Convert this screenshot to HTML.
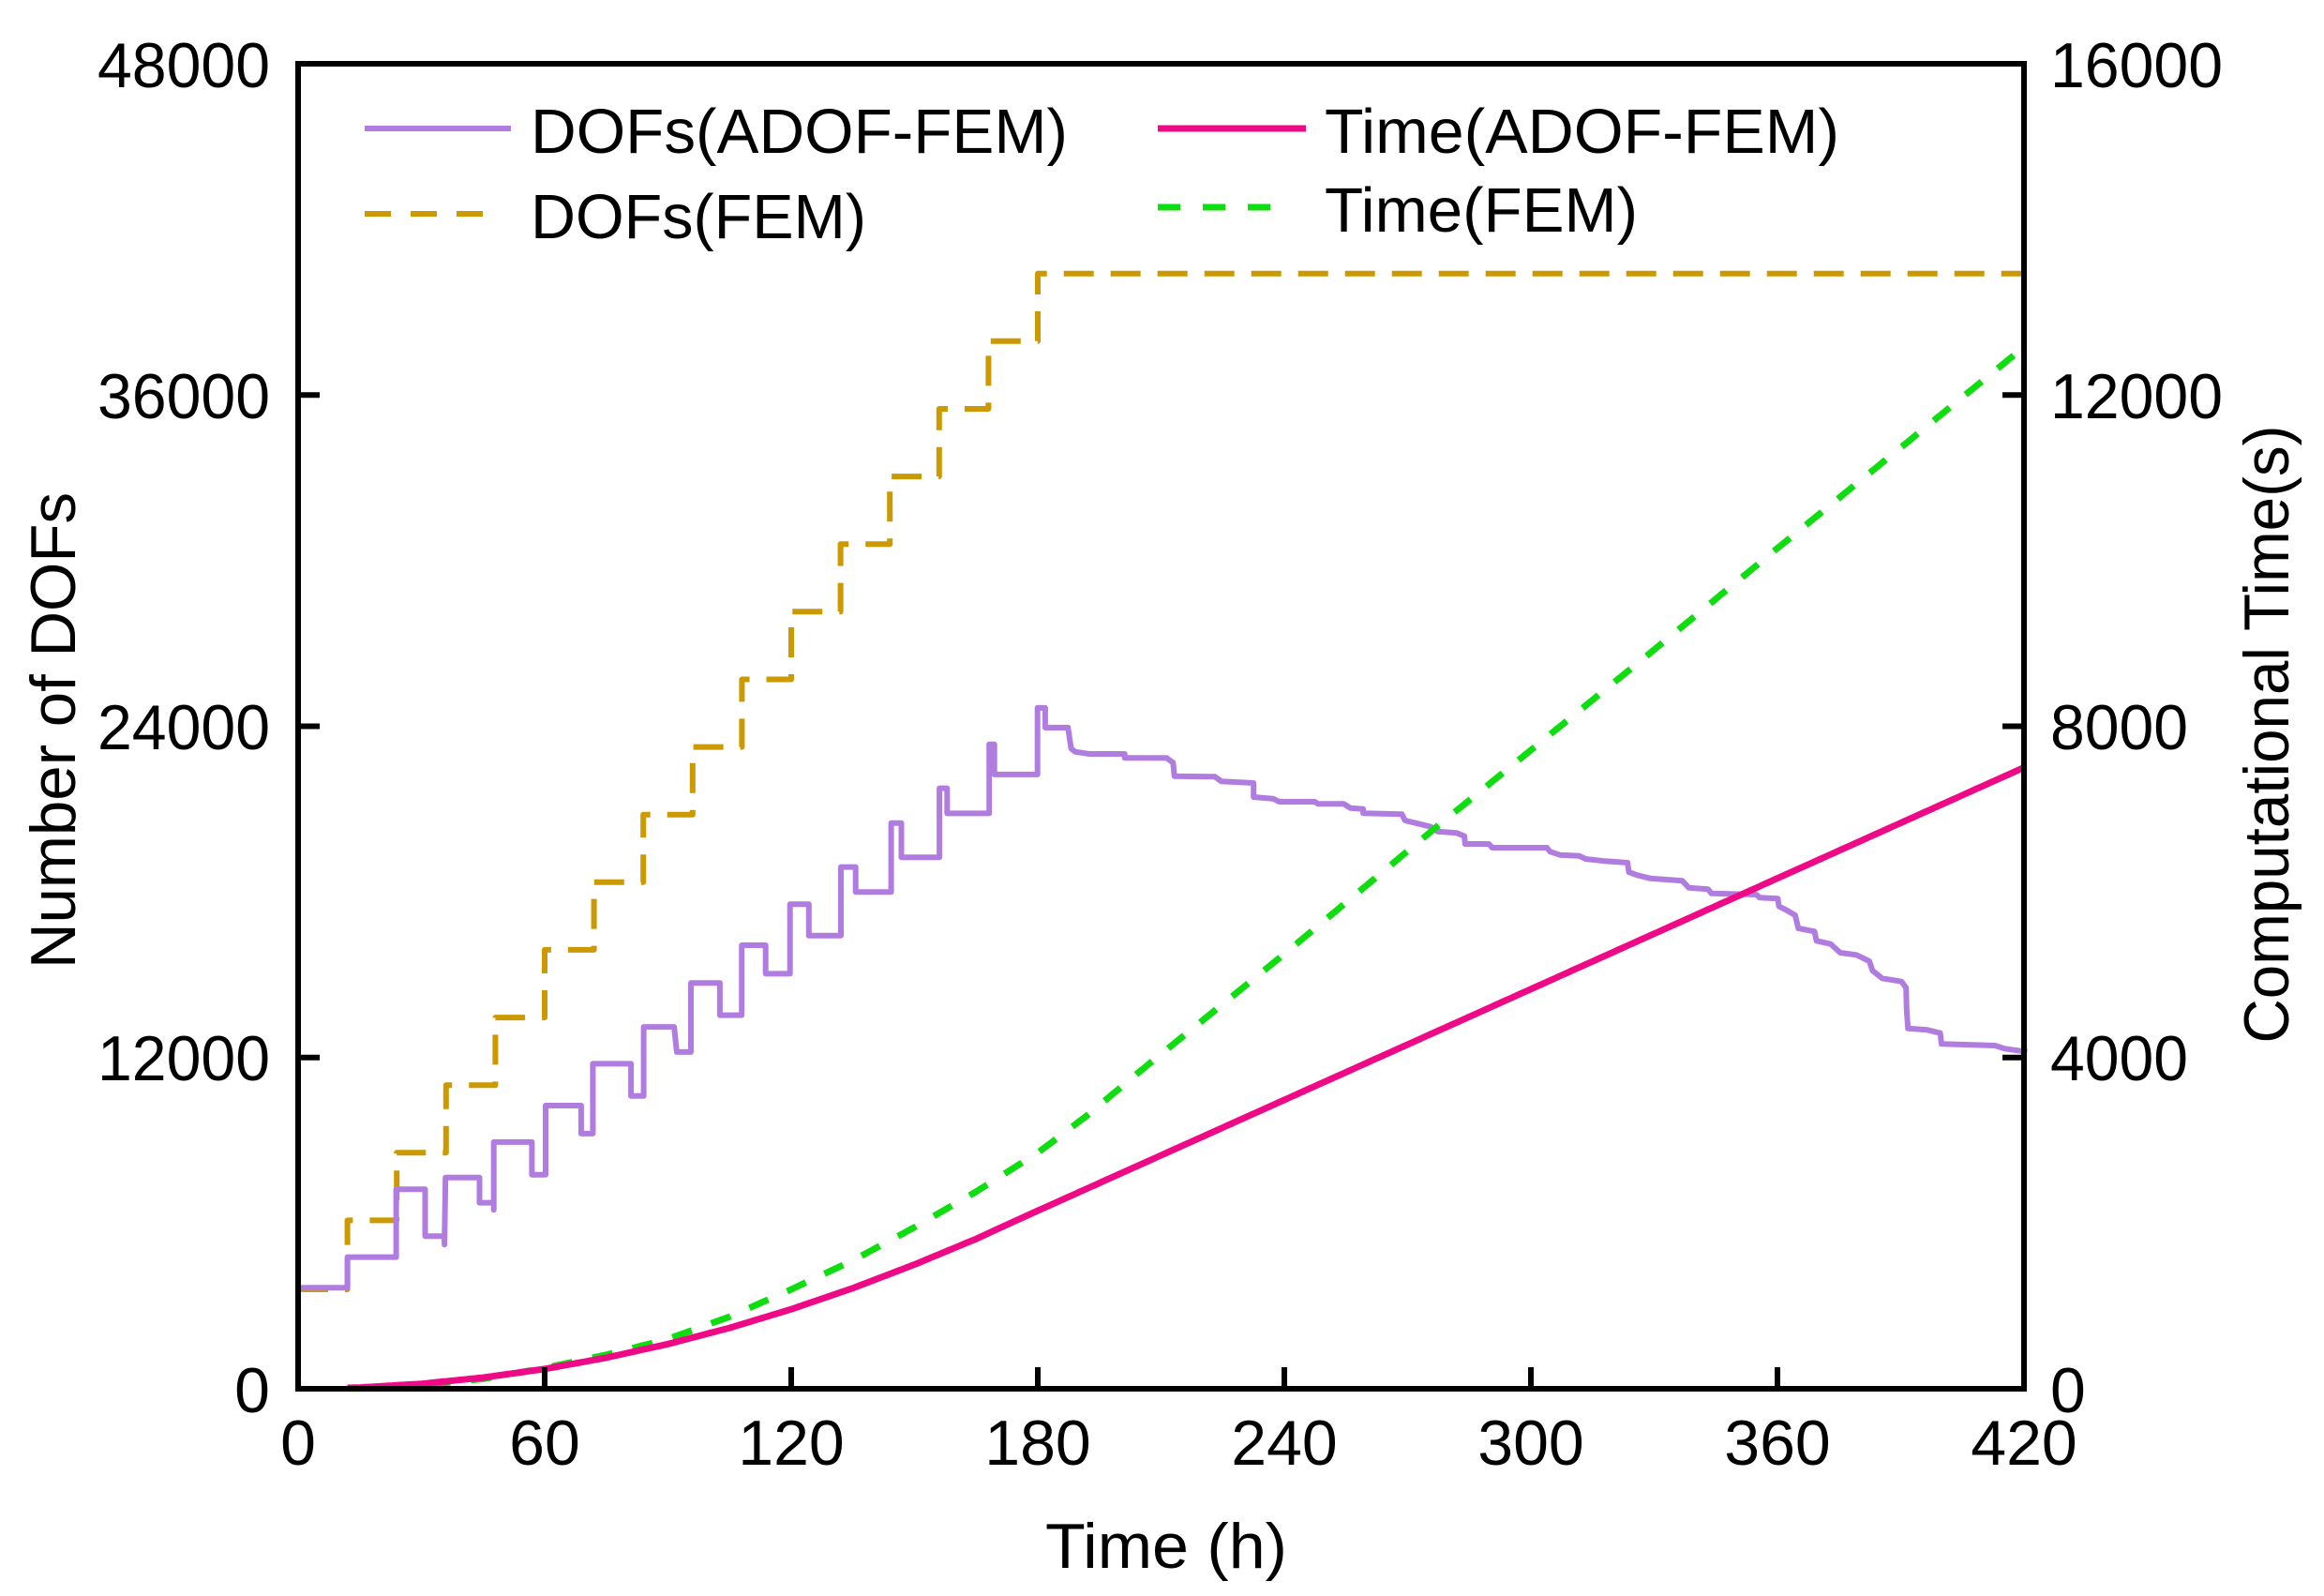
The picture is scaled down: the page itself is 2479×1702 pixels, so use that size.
<!DOCTYPE html>
<html><head><meta charset="utf-8"><style>
html,body{margin:0;padding:0;background:#fff;}
svg{display:block;}
text{font-family:"Liberation Sans",Arial,sans-serif;fill:#000;}
</style></head><body>
<svg id="s" width="2479" height="1702" viewBox="0 0 2479 1702" xmlns="http://www.w3.org/2000/svg">
<rect width="2479" height="1702" fill="#fff"/>
<g id="series"></g>
<rect x="318" y="68" width="1841" height="1413" fill="none" stroke="#000" stroke-width="6"/>
<g id="ticks" stroke="#000" stroke-width="6"></g>
<g font-size="68">
<text x="288" y="93" text-anchor="end" textLength="184" lengthAdjust="spacingAndGlyphs">48000</text>
<text x="288" y="446" text-anchor="end" textLength="184" lengthAdjust="spacingAndGlyphs">36000</text>
<text x="288" y="799" text-anchor="end" textLength="184" lengthAdjust="spacingAndGlyphs">24000</text>
<text x="288" y="1152" text-anchor="end" textLength="184" lengthAdjust="spacingAndGlyphs">12000</text>
<text x="288" y="1506" text-anchor="end">0</text>
<text x="2187" y="93" textLength="184" lengthAdjust="spacingAndGlyphs">16000</text>
<text x="2187" y="446" textLength="184" lengthAdjust="spacingAndGlyphs">12000</text>
<text x="2187" y="799" textLength="147" lengthAdjust="spacingAndGlyphs">8000</text>
<text x="2187" y="1152" textLength="147" lengthAdjust="spacingAndGlyphs">4000</text>
<text x="2187" y="1506">0</text>
<g text-anchor="middle">
<text x="318" y="1562">0</text>
<text x="581" y="1562">60</text>
<text x="844" y="1562">120</text>
<text x="1107" y="1562">180</text>
<text x="1370" y="1562">240</text>
<text x="1633" y="1562">300</text>
<text x="1896" y="1562">360</text>
<text x="2159" y="1562">420</text>
</g>
</g>
<text x="1244" y="1672" font-size="68" text-anchor="middle" textLength="258" lengthAdjust="spacingAndGlyphs">Time (h)</text>
<text transform="translate(80,779) rotate(-90)" font-size="68" text-anchor="middle" textLength="508" lengthAdjust="spacingAndGlyphs">Number of DOFs</text>
<text transform="translate(2441,783) rotate(-90)" font-size="68" text-anchor="middle" textLength="659" lengthAdjust="spacingAndGlyphs">Computational Time(s)</text>
<line x1="389" y1="137" x2="545" y2="137" stroke="#b07ce0" stroke-width="6"/>
<text x="566" y="163" font-size="67" textLength="573" lengthAdjust="spacingAndGlyphs">DOFs(ADOF-FEM)</text>
<line x1="389" y1="228" x2="518" y2="228" stroke="#cc9900" stroke-width="6" stroke-dasharray="28 21"/>
<text x="566" y="254" font-size="67" textLength="358" lengthAdjust="spacingAndGlyphs">DOFs(FEM)</text>
<line x1="1235" y1="137" x2="1393" y2="137" stroke="#ee0a86" stroke-width="7"/>
<text x="1413" y="163" font-size="67" textLength="549" lengthAdjust="spacingAndGlyphs">Time(ADOF-FEM)</text>
<line x1="1235" y1="221" x2="1366" y2="221" stroke="#10dd10" stroke-width="7" stroke-dasharray="24 24"/>
<text x="1413" y="247" font-size="67" textLength="334" lengthAdjust="spacingAndGlyphs">Time(FEM)</text>
</svg>
<script>
var NS="http://www.w3.org/2000/svg";
function X(t){return 318+t*1841/420;}
function YL(v){return 1481-v*1413/48000;}
function YR(s){return 1481-s*1413/16000;}
var g=document.getElementById('series');
function path(d,col,w,dash){var p=document.createElementNS(NS,'path');p.setAttribute('d',d);p.setAttribute('fill','none');p.setAttribute('stroke',col);p.setAttribute('stroke-width',w);p.setAttribute('stroke-linejoin','round');if(dash)p.setAttribute('stroke-dasharray',dash);g.appendChild(p);}
function toD(pts){return 'M'+pts.map(function(p){return p[0].toFixed(1)+','+p[1].toFixed(1);}).join(' L');}
var tk=document.getElementById('ticks');
function ln(a,b,c,d){var l=document.createElementNS(NS,'line');l.setAttribute('x1',a);l.setAttribute('y1',b);l.setAttribute('x2',c);l.setAttribute('y2',d);tk.appendChild(l);}
for(var i=1;i<7;i++){var x=X(60*i);ln(x,1481,x,1458);}
for(var i=1;i<4;i++){var y=YL(12000*i);ln(318,y,341,y);ln(2159,y,2136,y);}
var gp=[[X(0),YL(3600)]];var lev=3600;
for(var k=1;k<=15;k++){var t=12*k;gp.push([X(t),YL(lev)]);lev=6100+2450*(k-1);gp.push([X(t),YL(lev)]);}
gp.push([X(420),YL(lev)]);
path(toD(gp),'#cc9900',6,'32 18');
var z6=[[0,1508],[97,1508],[97,1435],[193,1435],[193,1273],[250,1273],[250,1385],[288,1385],[288,1405],[290,1245],[357,1245],[357,1305],[385,1305],[385,1322],[385,1160],[460,1160],[460,1238],[487,1238],[487,1073],[557,1073],[557,1140],[580,1140],[580,973],[655,973],[655,1050],[680,1050],[680,885],[740,885],[745,945],[773,945],[773,780],[830,780],[830,857],[873,857],[873,690],[920,690],[920,758],[968,758],[968,592],[1005,592],[1005,667],[1068,667],[1068,503],[1097,503],[1097,563],[1167,563],[1167,398],[1187,398],[1187,480],[1262,480],[1262,315],[1277,315],[1277,375],[1360,375],[1360,210],[1370,210],[1370,282],[1455,282],[1455,123],[1470,123],[1470,170],[1515,170]];
var z7=[[22,228],[57,228],[62,295],[68,305],[90,312],[145,312],[145,325],[210,325],[220,340],[222,383],[285,385],[295,400],[345,405],[345,450],[375,455],[385,465],[440,465],[445,472],[485,472],[495,485],[515,488],[515,502],[575,505],[580,525],[600,535],[620,545],[630,560],[660,565],[672,575],[673,600],[710,600],[715,612],[800,612],[805,625],[820,635],[850,638],[860,648],[890,655],[925,660],[927,690],[940,700],[960,710],[1010,718],[1020,740],[1050,745],[1055,758],[1125,762],[1130,772],[1158,775],[1160,800],[1170,810],[1185,828],[1190,870],[1215,880],[1218,910],[1240,920],[1255,948],[1280,955],[1300,975],[1305,1005],[1320,1030],[1350,1040],[1357,1060],[1358,1130],[1360,1190],[1390,1195],[1410,1205],[1412,1240],[1495,1245],[1510,1255],[1545,1265]];
var pp=z6.map(function(p){return [318+p[0]*850/1568,700+p[1]*700/1568];});
z7.forEach(function(p){pp.push([1100+p[0]*1070/1556,700+p[1]*450/1350]);});
path(toD(pp),'#b07ce0',6);
function interp(pts,t){for(var i=1;i<pts.length;i++){if(t<=pts[i][0]){var a=pts[i-1],b=pts[i];var f=(t-a[0])/(b[0]-a[0]);return a[1]+f*(b[1]-a[1]);}}return pts[pts.length-1][1];}
var gf=[[0,0],[15,5],[30,40],[45,120],[60,250],[75,410],[90,600],[105,870],[120,1200],[135,1550],[150,1950],[165,2380],[180,2850],[192,3300],[205,3839],[240,5250],[277,6783],[328,8843],[360,10150],[420,12580]];
var gpts=[];for(var t=12;t<=420;t+=1){gpts.push([X(t),YR(interp(gf,t))]);}
path(toD(gpts),'#10dd10',7,'22 22');
var pf=[[0,0],[15,15],[30,60],[45,135],[60,239],[75,375],[90,540],[105,735],[120,960],[135,1215],[150,1500],[165,1810],[180,2150],[420,7502]];
var ppts=[];for(var t=12;t<=420;t+=1){ppts.push([X(t),YR(interp(pf,t))]);}
path(toD(ppts),'#ee0a86',7);
</script>
</body></html>
